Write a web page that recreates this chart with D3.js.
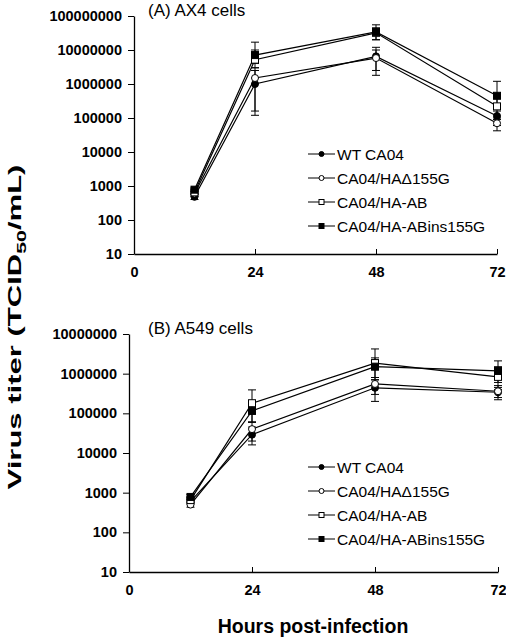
<!DOCTYPE html>
<html>
<head>
<meta charset="utf-8">
<script src="https://cdn.jsdelivr.net/npm/d3@7"></script>
<style>
  body { margin: 0; background: #fff; }
  svg { display: block; font-family: Arial, "Liberation Sans", sans-serif; }
</style>
</head>
<body>
<div id="chart"></div>
<script>
// hours post-infection
const hours = [12, 24, 48, 72];
const seriesNames = ["WT CA04", "CA04/HA\u0394155G", "CA04/HA-AB", "CA04/HA-ABins155G"];
const seriesMarks = ["circleFilled", "circleOpen", "squareOpen", "squareFilled"];

// (A) AX4 cells, mean titers
const ax4WT    = [480, 1.0e6, 6.5e6, 1.15e5];
const ax4Del   = [600, 1.5e6, 5.8e6, 7.0e4];
const ax4AB    = [650, 5.2e6, 3.2e7, 2.2e5];
const ax4Ins   = [780, 7.1e6, 3.4e7, 4.5e5];
// (A) error bar [low, high]
const ax4WTErr  = [[400, 580], [1.2e5, 2.5e6], [2.5e6, 1.2e7], [6.0e4, 1.6e5]];
const ax4DelErr = [[500, 700], [1.6e5, 3.0e6], [1.8e6, 1.0e7], [4.2e4, 9.0e4]];
const ax4ABErr  = [[560, 760], [3.0e6, 1.0e7], [2.0e7, 4.5e7], [1.0e5, 4.0e5]];
const ax4InsErr = [[680, 880], [4.0e6, 1.7e7], [2.0e7, 5.5e7], [2.0e5, 1.2e6]];

// (B) A549 cells, mean titers
const a549WT   = [600, 2.9e4, 4.4e5, 3.4e5];
const a549Del  = [500, 4.0e4, 5.5e5, 3.6e5];
const a549AB   = [650, 1.8e5, 1.85e6, 8.3e5];
const a549Ins  = [780, 1.15e5, 1.5e6, 1.17e6];
const a549WTErr  = [[520, 690], [1.6e4, 4.5e4], [2.0e5, 7.0e5], [2.5e5, 4.5e5]];
const a549DelErr = [[430, 580], [2.0e4, 6.0e4], [3.0e5, 8.0e5], [2.2e5, 5.0e5]];
const a549ABErr  = [[560, 760], [6.0e4, 3.9e5], [8.0e5, 4.2e6], [4.0e5, 1.5e6]];
const a549InsErr = [[680, 900], [6.0e4, 2.0e5], [7.0e5, 2.5e6], [6.0e5, 2.1e6]];

const xTicks = [0, 24, 48, 72];
const yTicksA = [10, 100, 1000, 10000, 100000, 1000000, 10000000, 100000000];
const yTicksB = [10, 100, 1000, 10000, 100000, 1000000, 10000000];

const W = 506, H = 638;
const svg = d3.select("#chart").append("svg")
    .attr("width", W).attr("height", H);

function drawMarker(g, type, cx, cy, size) {
    if (type.startsWith("circle")) {
        g.append("circle")
            .attr("cx", cx).attr("cy", cy).attr("r", size / 2)
            .attr("fill", type === "circleFilled" ? "#000" : "#fff")
            .attr("stroke", "#000").attr("stroke-width", 1);
    } else {
        g.append("rect")
            .attr("x", cx - size / 2).attr("y", cy - size / 2)
            .attr("width", size).attr("height", size)
            .attr("fill", type === "squareFilled" ? "#000" : "#fff")
            .attr("stroke", "#000").attr("stroke-width", 1);
    }
}

function drawPanel(opt) {
    const x = d3.scaleLinear().domain([0, 72]).range(opt.xRange);
    const y = d3.scaleLog().domain(opt.yDomain).range(opt.yRange);
    const g = svg.append("g");

    // y axis
    const yAxis = g.append("g")
        .attr("transform", `translate(${opt.xRange[0]},0)`)
        .call(d3.axisLeft(y).tickValues(opt.yTicks).tickFormat(d3.format("d"))
            .tickSizeInner(6).tickSizeOuter(0).tickPadding(6));
    yAxis.select(".domain").attr("stroke-width", 1.3);
    yAxis.selectAll("text").style("font-size", "14.5px").style("font-weight", "bold").attr("fill", "#000");

    // x axis, ticks point inward
    const xAxis = g.append("g")
        .attr("transform", `translate(0,${opt.yRange[0]})`)
        .call(d3.axisBottom(x).tickValues(xTicks).tickSizeInner(-5).tickSizeOuter(0).tickPadding(13));
    xAxis.select(".domain").attr("stroke-width", 1.3);
    xAxis.selectAll("text").style("font-size", "14.5px").style("font-weight", "bold").attr("fill", "#000");

    // error bars
    opt.series.forEach(s => {
        s.err.forEach((e, i) => {
            const cx = x(hours[i]);
            g.append("line").attr("x1", cx).attr("x2", cx)
                .attr("y1", y(e[0])).attr("y2", y(e[1]))
                .attr("stroke", "#000").attr("stroke-width", 1);
            [e[0], e[1]].forEach(v => {
                g.append("line").attr("x1", cx - 4).attr("x2", cx + 4)
                    .attr("y1", y(v)).attr("y2", y(v))
                    .attr("stroke", "#000").attr("stroke-width", 1);
            });
        });
    });

    // lines
    const line = d3.line().x((d, i) => x(hours[i])).y(d => y(d));
    opt.series.forEach(s => {
        g.append("path").attr("d", line(s.values))
            .attr("fill", "none").attr("stroke", "#000").attr("stroke-width", 1.2);
    });

    // markers
    opt.series.forEach(s => {
        s.values.forEach((v, i) => drawMarker(g, s.mark, x(hours[i]), y(v), 7));
    });

    // panel title
    g.append("text")
        .attr("x", 148).attr("y", opt.titleY)
        .style("font-size", "17px")
        .text(opt.title);

    // legend
    seriesNames.forEach((name, i) => {
        const ly = opt.legendY + i * 24;
        g.append("line").attr("x1", 308).attr("x2", 335)
            .attr("y1", ly).attr("y2", ly)
            .attr("stroke", "#000").attr("stroke-width", 1);
        drawMarker(g, seriesMarks[i], 321.5, ly, 5);
        g.append("text")
            .attr("x", 337).attr("y", ly).attr("dy", "0.36em")
            .style("font-size", "15.5px")
            .text(name);
    });
}

drawPanel({
    xRange: [134, 497], yRange: [254, 16], yDomain: [10, 1e8], yTicks: yTicksA,
    title: "(A) AX4 cells", titleY: 16, legendY: 154,
    series: [
        { values: ax4WT,  err: ax4WTErr,  mark: seriesMarks[0] },
        { values: ax4Del, err: ax4DelErr, mark: seriesMarks[1] },
        { values: ax4AB,  err: ax4ABErr,  mark: seriesMarks[2] },
        { values: ax4Ins, err: ax4InsErr, mark: seriesMarks[3] }
    ]
});

drawPanel({
    xRange: [129, 498], yRange: [572, 334], yDomain: [10, 1e7], yTicks: yTicksB,
    title: "(B) A549 cells", titleY: 334, legendY: 467,
    series: [
        { values: a549WT,  err: a549WTErr,  mark: seriesMarks[0] },
        { values: a549Del, err: a549DelErr, mark: seriesMarks[1] },
        { values: a549AB,  err: a549ABErr,  mark: seriesMarks[2] },
        { values: a549Ins, err: a549InsErr, mark: seriesMarks[3] }
    ]
});

// axis titles (the y title is stretched along its length, as in the original)
const yTitle = svg.append("text")
    .attr("text-anchor", "middle")
    .style("font-size", "19px").style("font-weight", "bold");
yTitle.append("tspan").text("Virus titer (TCID");
yTitle.append("tspan").attr("dy", 5).style("font-size", "13px").text("50");
yTitle.append("tspan").attr("dy", -5).text("/mL)");
const titleLen = yTitle.node().getComputedTextLength();
yTitle.attr("transform", `translate(21,327) rotate(-90) scale(${325 / titleLen},1)`);

svg.append("text")
    .attr("x", 313).attr("y", 633)
    .attr("text-anchor", "middle")
    .style("font-size", "19.5px").style("font-weight", "bold")
    .text("Hours post-infection");
</script>
</body>
</html>
